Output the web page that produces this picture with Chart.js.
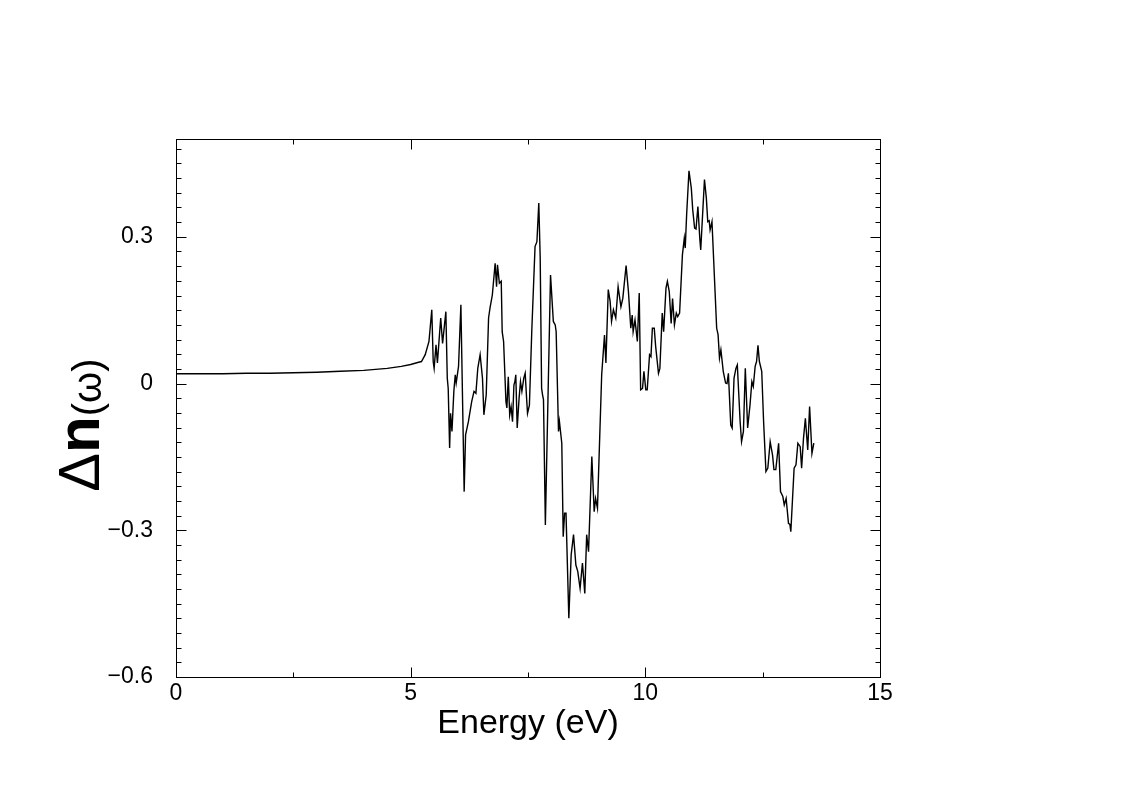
<!DOCTYPE html>
<html><head><meta charset="utf-8">
<script src="https://cdn.jsdelivr.net/npm/chart.js@4"></script>
<style>html,body{margin:0;padding:0;background:#fff;}canvas{display:block;}</style>
</head><body>
<canvas id="c" width="1123" height="793" style="width:1123px;height:793px"></canvas>
<script>
const energy = [0,0.5,1.0,1.5,2.0,2.5,3.0,3.5,4.0,4.5,4.8,5.0,5.15,5.23,5.31,5.39,5.45,5.48,5.50,5.54,5.57,5.64,5.68,5.75,5.78,5.80,5.83,5.85,5.88,5.92,5.95,5.97,6.02,6.07,6.14,6.17,6.23,6.30,6.35,6.39,6.43,6.48,6.53,6.56,6.61,6.66,6.69,6.74,6.80,6.83,6.85,6.89,6.93,6.95,6.98,7.03,7.05,7.08,7.11,7.14,7.17,7.20,7.22,7.24,7.27,7.31,7.34,7.37,7.41,7.44,7.47,7.49,7.53,7.58,7.65,7.69,7.73,7.76,7.79,7.81,7.83,7.87,7.98,8.04,8.08,8.10,8.15,8.17,8.22,8.25,8.28,8.31,8.37,8.42,8.47,8.52,8.56,8.61,8.66,8.71,8.75,8.79,8.86,8.91,8.94,8.98,9.07,9.13,9.16,9.21,9.25,9.28,9.32,9.37,9.42,9.48,9.52,9.59,9.64,9.69,9.72,9.74,9.78,9.83,9.87,9.90,9.94,9.97,10.01,10.04,10.09,10.12,10.15,10.19,10.22,10.28,10.31,10.36,10.39,10.44,10.47,10.51,10.55,10.58,10.62,10.66,10.69,10.73,10.79,10.83,10.85,10.88,10.93,10.98,11.01,11.05,11.08,11.12,11.16,11.18,11.26,11.30,11.33,11.36,11.38,11.42,11.52,11.55,11.58,11.61,11.66,11.71,11.74,11.77,11.82,11.85,11.89,11.93,11.96,12.02,12.05,12.09,12.13,12.18,12.23,12.27,12.30,12.34,12.37,12.40,12.43,12.48,12.52,12.57,12.61,12.66,12.71,12.74,12.78,12.84,12.88,12.93,12.96,13.00,13.05,13.08,13.10,13.17,13.21,13.25,13.30,13.33,13.37,13.41,13.46,13.50,13.55,13.59];
const dn = [0.020,0.020,0.020,0.021,0.021,0.022,0.023,0.025,0.027,0.031,0.035,0.039,0.043,0.045,0.059,0.086,0.151,0.045,0.031,0.079,0.042,0.134,0.082,0.147,0.011,-0.010,-0.132,-0.061,-0.098,-0.016,0.018,0.001,0.035,0.161,-0.221,-0.105,-0.078,-0.037,-0.016,-0.020,0.031,0.059,0.011,-0.064,-0.023,0.134,0.154,0.181,0.246,0.198,0.243,0.205,0.209,0.106,0.086,-0.037,-0.050,0.014,-0.064,-0.047,-0.078,-0.003,0.004,0.018,-0.091,-0.030,0.004,-0.016,0.011,0.021,-0.030,-0.061,-0.044,0.106,0.280,0.290,0.369,0.256,-0.010,-0.023,-0.033,-0.289,0.222,0.127,0.120,0.106,-0.098,-0.078,-0.122,-0.313,-0.265,-0.265,-0.480,-0.350,-0.309,-0.371,-0.384,-0.419,-0.367,-0.429,-0.309,-0.344,-0.149,-0.262,-0.235,-0.255,0.018,0.099,0.042,0.192,0.168,0.127,0.151,0.134,0.198,0.157,0.174,0.241,0.188,0.113,0.140,0.106,0.130,0.086,0.185,-0.013,-0.010,0.025,-0.013,-0.013,0.059,0.055,0.113,0.113,0.076,0.021,0.031,0.144,0.106,0.195,0.209,0.188,0.123,0.174,0.120,0.144,0.137,0.144,0.263,0.297,0.277,0.345,0.435,0.399,0.355,0.318,0.316,0.362,0.297,0.273,0.417,0.379,0.331,0.333,0.314,0.331,0.113,0.100,0.052,0.069,0.025,0.001,0.000,0.021,-0.085,-0.091,0.011,0.031,0.038,-0.078,-0.119,-0.098,0.031,-0.091,-0.044,0.004,-0.006,0.035,0.045,0.078,0.045,0.025,-0.078,-0.180,-0.173,-0.119,-0.146,-0.176,-0.176,-0.122,-0.221,-0.231,-0.248,-0.235,-0.286,-0.288,-0.303,-0.173,-0.166,-0.122,-0.129,-0.173,-0.112,-0.071,-0.136,-0.047,-0.143,-0.122];
const xTickLabels = [0,5,10,15];
const yTickLabels = [-0.6,-0.3,0,0.3];
const xTitle = 'Energy (eV)';
const yTitleParts = ['\u0394','n','(\u03c9)'];

const FONT = '"Liberation Sans", Arial, Helvetica, sans-serif';

const framePlugin = {
  id: 'frame',
  afterDatasetsDraw(chart) {
    const {ctx, chartArea: a, scales: {x, y}} = chart;
    ctx.save();
    ctx.strokeStyle = '#000';
    ctx.lineWidth = 1;
    const L = Math.round(a.left) + 0.5, R = Math.round(a.right) + 0.5;
    const T = Math.round(a.top) + 0.5, B = Math.round(a.bottom) + 0.5;
    ctx.strokeRect(L, T, R - L, B - T);
    ctx.beginPath();
    for (let k = 0; k <= 6; k++) {
      const v = k * 2.5;
      const px = Math.round(x.getPixelForValue(v)) + 0.5;
      const len = (k % 2 === 0) ? 10 : 5;
      ctx.moveTo(px, B); ctx.lineTo(px, B - len);
      ctx.moveTo(px, T); ctx.lineTo(px, T + len);
    }
    for (let k = 0; k <= 36; k++) {
      const v = -0.6 + k * 0.03;
      if (v > 0.5 + 1e-9) break;
      const py = Math.round(y.getPixelForValue(v)) + 0.5;
      const len = (k % 10 === 0) ? 10 : 5;
      ctx.moveTo(L, py); ctx.lineTo(L + len, py);
      ctx.moveTo(R, py); ctx.lineTo(R - len, py);
    }
    ctx.stroke();

    // y axis title
    ctx.fillStyle = '#000';
    ctx.textBaseline = 'alphabetic';
    const f = [ '58px ' + FONT, 'bold 60px ' + FONT, '40px ' + FONT ];
    const w = yTitleParts.map((t, i) => { ctx.font = f[i]; return ctx.measureText(t).width; });
    const total = w.reduce((s, v) => s + v, 0);
    ctx.translate(99, (a.top + a.bottom) / 2 + 17);
    ctx.rotate(-Math.PI / 2);
    let cx = -total / 2;
    yTitleParts.forEach((t, i) => {
      ctx.font = f[i];
      ctx.fillText(t, cx, i === 2 ? 2 : 0);
      cx += w[i];
    });
    ctx.restore();
  }
};

new Chart(document.getElementById('c'), {
  type: 'line',
  data: {
    datasets: [{
      data: energy.map((e, i) => ({x: e, y: dn[i]})),
      borderColor: '#000',
      borderWidth: 1.4,
      pointRadius: 0,
      tension: 0,
      fill: false
    }]
  },
  options: {
    responsive: false,
    animation: false,
    devicePixelRatio: 1,
    layout: { padding: { left: 0, top: 139, right: 243, bottom: 0 } },
    plugins: { legend: { display: false }, tooltip: { enabled: false } },
    scales: {
      x: {
        type: 'linear', min: 0, max: 15,
        afterBuildTicks: s => { s.ticks = xTickLabels.map(v => ({value: v})); },
        afterFit: s => { s.height = 116; },
        ticks: { color: '#000', font: { family: FONT, size: 23 }, padding: 3, maxRotation: 0, autoSkip: false,
          callback: v => String(v) },
        grid: { display: false, drawTicks: false },
        border: { display: false },
        title: { display: true, text: xTitle, color: '#000', font: { family: FONT, size: 34 }, padding: { top: 0, bottom: 49 } }
      },
      y: {
        type: 'linear', min: -0.6, max: 0.5,
        afterBuildTicks: s => { s.ticks = yTickLabels.map(v => ({value: v})); },
        afterFit: s => { s.width = 176; },
        ticks: { color: '#000', font: { family: FONT, size: 23 }, padding: 23, autoSkip: false,
          callback: v => (Math.abs(v) < 1e-9 ? '0' : (v < 0 ? '\u2212' + Math.abs(v).toFixed(1) : v.toFixed(1))) },
        grid: { display: false, drawTicks: false },
        border: { display: false }
      }
    }
  },
  plugins: [framePlugin]
});
</script>
</body></html>
